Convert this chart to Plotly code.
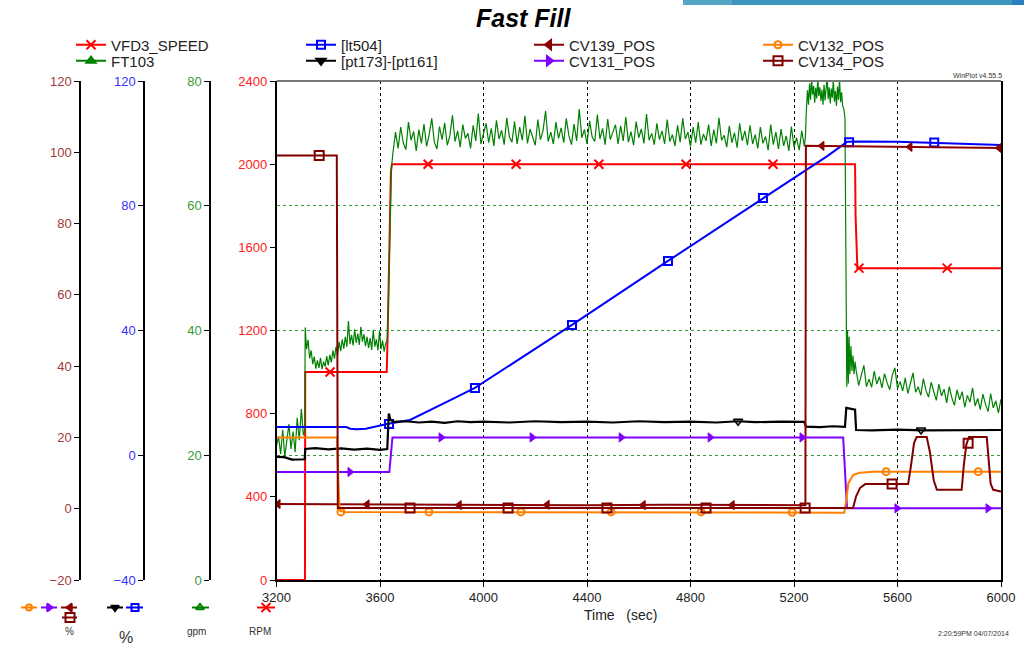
import plotly.graph_objects as go

W, H = 1024, 645
FONT = "Liberation Sans, Arial, Helvetica, sans-serif"

# ======================= DATA =======================
time_ticks = [3200, 3600, 4000, 4400, 4800, 5200, 5600, 6000]
rpm_ticks = [0, 400, 800, 1200, 1600, 2000, 2400]
gpm_ticks = [0, 20, 40, 60, 80]
lvl_ticks = [-40, 0, 40, 80, 120]
pos_ticks = [-20, 0, 20, 40, 60, 80, 100, 120]

# VFD3_SPEED [RPM]
spd_t = [3200, 3310, 3311, 3626, 3630, 3636, 3642, 3646, 5436, 5438, 5445, 6000]
spd_v = [0, 0, 1000, 1000, 1200, 1700, 1960, 2000, 2000, 1750, 1500, 1500]
spd_mk_t = [3407, 3786, 4126, 4446, 4783, 5119, 5451, 5792]
spd_mk_v = [1000, 2000, 2000, 2000, 2000, 2000, 1500, 1500]

# FT103 [gpm]  (noisy flow signal, read segment by segment as (time, gpm))
ft_a = [(3200, 21.5), (3208, 23.0), (3216, 20.2), (3224, 24.1), (3232, 19.8), (3240, 22.6),
        (3248, 25.0), (3256, 21.0), (3264, 23.8), (3272, 20.5), (3280, 26.0), (3288, 22.4),
        (3296, 27.4), (3304, 23.2), (3309, 24.0)]
ft_b = [(3311, 40.5), (3316, 37.0), (3322, 38.5), (3328, 35.5), (3334, 36.8), (3340, 34.6),
        (3346, 35.8), (3352, 33.9), (3358, 35.2), (3364, 34.0), (3370, 35.6), (3376, 33.8),
        (3382, 35.0), (3388, 34.2), (3394, 35.9), (3400, 34.4), (3406, 36.1), (3412, 34.9),
        (3418, 36.8), (3424, 35.5), (3430, 37.4), (3436, 36.0), (3442, 38.2), (3448, 36.7),
        (3454, 38.6), (3460, 37.1), (3466, 39.0), (3472, 37.4), (3478, 41.5), (3484, 37.8),
        (3490, 39.3), (3496, 37.6), (3502, 40.2), (3508, 38.0), (3514, 39.5), (3520, 37.7),
        (3526, 40.6), (3532, 38.2), (3538, 39.4), (3544, 37.5), (3550, 39.0), (3556, 37.2),
        (3562, 38.8), (3568, 36.9), (3574, 40.1), (3580, 37.4), (3586, 38.6), (3592, 36.8),
        (3598, 39.9), (3604, 37.0), (3610, 38.4), (3616, 36.6), (3622, 37.9)]
ft_ramp = [(3628, 38.5), (3632, 44.0), (3636, 51.0), (3640, 59.0), (3644, 66.0), (3650, 68.5),
           (3655, 70.5)]
ft_c = [(3660, 71.8), (3670, 69.2), (3680, 72.6), (3690, 70.1), (3700, 69.0), (3710, 73.4), (3720, 70.5), (3730, 71.9), (3740, 68.8), (3750, 72.2),
        (3760, 70.0), (3770, 73.1), (3780, 69.5), (3790, 71.4), (3800, 74.0), (3810, 70.2), (3820, 69.1), (3830, 72.7), (3840, 70.6), (3850, 73.3),
        (3860, 69.7), (3870, 71.2), (3880, 74.5), (3890, 70.3), (3900, 72.0), (3910, 69.4), (3920, 73.0), (3930, 70.8), (3940, 71.6), (3950, 69.2),
        (3960, 72.9), (3970, 70.4), (3980, 74.8), (3990, 69.9), (4000, 71.5), (4010, 73.2), (4020, 70.1), (4030, 72.4), (4040, 69.6), (4050, 73.7),
        (4060, 70.7), (4070, 72.1), (4080, 69.8), (4090, 74.1), (4100, 71.0), (4110, 70.2), (4120, 73.5), (4130, 69.9), (4140, 72.6), (4150, 70.5),
        (4160, 74.4), (4170, 70.0), (4180, 72.3), (4190, 71.1), (4200, 69.7), (4210, 73.8), (4220, 70.6), (4230, 72.0), (4240, 75.2), (4250, 70.3),
        (4260, 71.8), (4270, 69.9), (4280, 73.4), (4290, 70.8), (4300, 72.5), (4310, 70.1), (4320, 74.0), (4330, 71.2), (4340, 69.8), (4350, 73.1),
        (4360, 70.4), (4370, 75.5), (4380, 70.9), (4390, 72.2), (4400, 69.9), (4410, 73.6), (4420, 71.0), (4430, 70.3), (4440, 74.6), (4450, 70.7),
        (4460, 72.4), (4470, 69.8), (4480, 73.9), (4490, 70.6), (4500, 71.7), (4510, 73.0), (4520, 69.9), (4530, 72.8), (4540, 70.4), (4550, 74.2),
        (4560, 70.2), (4570, 71.9), (4580, 69.7), (4590, 73.5), (4600, 70.9), (4610, 72.3), (4620, 70.0), (4630, 74.7), (4640, 70.5), (4650, 71.6),
        (4660, 69.8), (4670, 73.2), (4680, 70.6), (4690, 72.0), (4700, 69.9), (4710, 73.8), (4720, 70.3), (4730, 71.4), (4740, 69.6), (4750, 72.9),
        (4760, 70.2), (4770, 74.0), (4780, 70.7), (4790, 71.8), (4800, 69.5), (4810, 72.6), (4820, 70.1), (4830, 73.4), (4840, 69.8), (4850, 71.5),
        (4860, 70.4), (4870, 73.0), (4880, 69.6), (4890, 72.2), (4900, 70.0), (4910, 74.1), (4920, 70.5), (4930, 71.3), (4940, 69.4), (4950, 72.8),
        (4960, 70.1), (4970, 71.7), (4980, 69.3), (4990, 73.2), (5000, 70.4), (5010, 72.0), (5020, 69.7), (5030, 72.9), (5040, 69.9), (5050, 71.4),
        (5060, 69.2), (5070, 72.6), (5080, 70.0), (5090, 71.1), (5100, 68.9), (5110, 73.0), (5120, 69.8), (5130, 71.8), (5140, 69.1), (5150, 72.3),
        (5160, 69.6), (5170, 71.2), (5180, 68.8), (5190, 72.7), (5200, 69.4), (5210, 70.9), (5220, 68.9), (5230, 72.0), (5240, 69.5)]
ft_d = [(5244, 71.0), (5248, 75.5), (5252, 78.5), (5256, 76.2), (5260, 79.6), (5264, 77.0),
        (5268, 80.5), (5272, 77.8), (5276, 79.2), (5280, 76.5), (5284, 78.9), (5288, 77.2),
        (5292, 80.3), (5296, 77.6), (5300, 79.0), (5304, 76.8), (5308, 78.6), (5312, 76.2),
        (5316, 79.4), (5320, 76.9), (5324, 78.3), (5328, 80.6), (5332, 77.1), (5336, 79.0),
        (5340, 76.4), (5344, 78.8), (5348, 77.3), (5352, 80.2), (5356, 76.7), (5360, 78.4),
        (5364, 76.0), (5368, 79.1), (5372, 77.0), (5376, 80.4), (5380, 76.6), (5384, 78.2),
        (5388, 76.0), (5393, 75.5)]
ft_e = [(5397, 74.0), (5401, 45.0), (5404, 31.0), (5407, 40.0), (5410, 31.5), (5413, 39.0),
        (5416, 33.0), (5420, 37.5), (5424, 33.5), (5428, 36.0), (5432, 33.0), (5436, 35.0),
        (5440, 33.6), (5450, 31.2), (5460, 32.8), (5470, 34.4), (5480, 31.0), (5490, 32.2), (5500, 30.9), (5510, 33.5), (5520, 31.4), (5530, 32.6),
        (5540, 30.8), (5550, 33.1), (5560, 31.6), (5570, 30.5), (5580, 32.9), (5590, 34.0), (5600, 30.7), (5610, 31.8), (5620, 30.3), (5630, 32.4),
        (5640, 29.9), (5650, 31.5), (5660, 33.2), (5670, 30.1), (5680, 31.0), (5690, 29.6), (5700, 32.3), (5710, 30.4), (5720, 29.3), (5730, 31.7),
        (5740, 30.0), (5750, 28.8), (5760, 31.4), (5770, 29.5), (5780, 30.6), (5790, 28.4), (5800, 31.0), (5810, 29.2), (5820, 28.0), (5830, 30.5),
        (5840, 28.9), (5850, 30.2), (5860, 27.7), (5870, 29.6), (5880, 28.5), (5890, 30.8), (5900, 27.9), (5910, 29.1), (5920, 27.3), (5930, 29.8),
        (5940, 28.2), (5950, 27.0), (5960, 29.9), (5970, 27.6), (5980, 28.7), (5990, 26.8), (6000, 29.0)]

# [lt504] [%]
lt_t = [3200, 3470, 3485, 3510, 3545, 3580, 3610, 3627, 3716, 3780, 3858, 3967, 4342, 4713,
        5080, 5243, 5330, 5405, 5450, 5600, 5800, 6000]
lt_v = [9.05, 9.05, 8.5, 8.3, 8.5, 9.2, 9.7, 10.0, 11.3, 14.0, 17.1, 21.6, 41.8, 62.3,
        82.5, 91.4, 96.0, 100.5, 100.6, 100.5, 100.1, 99.5]
lt_mk_t = [3635, 3967, 4342, 4713, 5080, 5413, 5742]
lt_mk_v = [10.0, 21.6, 41.8, 62.3, 82.5, 100.4, 100.3]

# [pt173]-[pt161] [%]
pt_t = [3200, 3230, 3260, 3290, 3309, 3311, 3350, 3400, 3450, 3500, 3550, 3600, 3628, 3634,
        3640, 3650, 3700, 3750, 3800, 3850, 3900, 3950, 4000, 4100, 4200, 4300, 4400, 4500,
        4600, 4700, 4800, 4900, 4984, 5050, 5150, 5240, 5246, 5300, 5350, 5397, 5402, 5436,
        5440, 5500, 5600, 5700, 5800, 5900, 6000]
pt_v = [-0.5, -0.6, -1.4, -1.2, -1.3, 2.0, 2.3, 1.9, 2.2, 1.8, 2.1, 1.7, 2.0, 13.4,
        11.5, 10.7, 10.9, 10.5, 10.8, 10.4, 10.9, 10.6, 10.8, 10.5, 10.9, 10.6, 10.8, 10.5,
        10.9, 10.6, 10.8, 10.5, 10.9, 10.6, 10.8, 10.7, 9.2, 9.0, 9.3, 9.1, 15.2, 14.6,
        8.1, 8.0, 8.2, 8.0, 8.1, 8.0, 8.1]
pt_mk_t = [4984, 5691]
pt_mk_v = [10.9, 8.1]

# CV139_POS [%]
cv139_t = [3200, 3500, 3800, 4100, 4400, 4700, 5000, 5244, 5246, 5400, 5700, 6000]
cv139_v = [1.3, 1.2, 1.0, 1.1, 1.0, 1.1, 1.0, 1.0, 101.8, 101.7, 101.5, 101.2]
cv139_mk_t = [3206, 3550, 3906, 4246, 4617, 4961, 5308, 5648, 5993]
cv139_mk_v = [1.3, 1.2, 1.0, 1.1, 1.0, 1.0, 101.8, 101.5, 101.2]

# CV131_POS [%]
cv131_t = [3200, 3636, 3642, 3648, 5390, 5398, 5405, 6000]
cv131_v = [10.3, 10.3, 15.0, 20.0, 20.0, 10.0, 0.1, 0.1]
cv131_mk_t = [3484, 3836, 4188, 4532, 4876, 5231, 5598, 5950]
cv131_mk_v = [10.3, 20.0, 20.0, 20.0, 20.0, 20.0, 0.1, 0.1]

# CV132_POS [%]
cv132_t = [3200, 3434, 3438, 3444, 3460, 5394, 5404, 5410, 5429, 5455, 5505, 6000]
cv132_v = [20.0, 20.0, 10.0, -0.5, -0.9, -1.1, 3.4, 7.1, 9.5, 10.1, 10.4, 10.4]
cv132_mk_t = [3449, 3789, 4145, 4493, 4841, 5193, 5556, 5912]
cv132_mk_v = [-0.9, -0.9, -0.9, -0.9, -0.9, -1.0, 10.4, 10.4]

# CV134_POS [%]
cv134_t = [3200, 3433, 3437, 5428, 5440, 5455, 5475, 5641, 5652, 5664, 5674, 5713, 5725,
           5740, 5752, 5848, 5856, 5866, 5876, 5945, 5952, 5960, 5970, 6000]
cv134_v = [99.1, 99.1, 0.2, 0.2, 3.5, 5.8, 6.9, 6.9, 12.0, 18.5, 20.1, 20.1, 16.0,
           8.0, 5.3, 5.3, 12.0, 18.0, 20.1, 20.1, 14.0, 7.0, 5.3, 4.8]
cv134_mk_t = [3365, 3716, 4095, 4477, 4860, 5243, 5579, 5873]
cv134_mk_v = [99.1, 0.2, 0.2, 0.2, 0.2, 0.2, 6.9, 18.4]

# ======================= STYLE / LAYOUT =======================
RED, GREEN, BLUE, BLACK = "#ff0000", "#008000", "#0000ff", "#000000"
BROWN, MAROON, PURPLE, ORANGE = "#8b0000", "#800000", "#8000ff", "#ff8000"


def px(x):
    return x / W


def py(y):
    return 1 - y / H


X0, X1, Y0, Y1 = 276.5, 1001, 580, 81

ft = ft_a + ft_b + ft_ramp + ft_c + ft_d + ft_e
ft_t = [p[0] for p in ft]
ft_v = [p[1] for p in ft]

fig = go.Figure()


def line(t, v, color, yaxis, width=2.0):
    fig.add_trace(go.Scatter(x=t, y=v, mode="lines", yaxis=yaxis, showlegend=False,
                             line=dict(color=color, width=width), hoverinfo="skip"))


def marks(t, v, color, yaxis, symbol, size=8, lw=2):
    fig.add_trace(go.Scatter(x=t, y=v, mode="markers", yaxis=yaxis, showlegend=False,
                             marker=dict(symbol=symbol, size=size, color=color,
                                         line=dict(color=color, width=lw)),
                             hoverinfo="skip"))


line(ft_t, ft_v, GREEN, "y2", 1.2)
line(spd_t, spd_v, RED, "y", 2.0)
marks(spd_mk_t, spd_mk_v, RED, "y", "x-thin", 9, 2)
line(lt_t, lt_v, BLUE, "y3", 2.0)
marks(lt_mk_t, lt_mk_v, BLUE, "y3", "square-open", 8, 2)
line(pt_t, pt_v, BLACK, "y3", 2.2)
marks(pt_mk_t, pt_mk_v, BLACK, "y3", "triangle-down-open", 8, 1.5)
line(cv139_t, cv139_v, BROWN, "y4", 2.0)
marks(cv139_mk_t, cv139_mk_v, BROWN, "y4", "triangle-left", 8, 1)
line(cv131_t, cv131_v, PURPLE, "y4", 2.0)
marks(cv131_mk_t, cv131_mk_v, PURPLE, "y4", "triangle-right", 8, 1)
line(cv132_t, cv132_v, ORANGE, "y4", 2.0)
marks(cv132_mk_t, cv132_mk_v, ORANGE, "y4", "circle-open", 7, 2)
line(cv134_t, cv134_v, MAROON, "y4", 2.0)
marks(cv134_mk_t, cv134_mk_v, MAROON, "y4", "square-open", 9, 2)

# ---- legend entries (one legend per entry, placed like the original grid) ----
legend_items = [
    ("VFD3_SPEED", RED, "x-thin", 9, 80, 45),
    ("FT103", GREEN, "triangle-up", 8, 80, 61),
    ("[lt504]", BLUE, "square-open", 8, 310, 45),
    ("[pt173]-[pt161]", BLACK, "triangle-down", 8, 310, 61),
    ("CV139_POS", BROWN, "triangle-left", 8, 538, 45),
    ("CV131_POS", PURPLE, "triangle-right", 8, 538, 61),
    ("CV132_POS", ORANGE, "circle-open", 7, 767, 45),
    ("CV134_POS", MAROON, "square-open", 9, 767, 61),
]
legends = {}
for i, (name, col, sym, sz, lx, ly) in enumerate(legend_items):
    key = "legend" if i == 0 else f"legend{i + 1}"
    fig.add_trace(go.Scatter(x=[None], y=[None], mode="lines+markers", name=name,
                             legend=key, line=dict(color=col, width=2),
                             marker=dict(symbol=sym, size=sz, color=col,
                                         line=dict(color=col, width=2))))
    legends[key] = dict(x=px(lx - 9), y=py(ly), xanchor="left", yanchor="middle",
                        bgcolor="rgba(0,0,0,0)", itemwidth=30,
                        font=dict(family=FONT, size=15, color="#222222"))

# ---- unit key below the stacked axes (drawn on a full-page helper subplot) ----
key_items = [
    (ORANGE, "circle-open", 6, 21, 37, 29, 607.5),
    (PURPLE, "triangle-right", 7, 41, 57, 49, 607.5),
    (BROWN, "triangle-left", 7, 61, 77, 70, 607.5),
    (MAROON, "square-open", 9, 62, 77, 70, 617.5),
    (BLACK, "triangle-down", 7, 107, 123, 115, 607.5),
    (BLUE, "square-open", 7, 126, 143, 135, 607.5),
    (GREEN, "triangle-up-open", 7, 192, 209, 200, 607.5),
    (RED, "x-thin", 9, 257, 275, 266, 607.5),
]
for col, sym, sz, xa, xb, xm, yk in key_items:
    fig.add_trace(go.Scatter(x=[xa, xb], y=[yk, yk], mode="lines", xaxis="x2", yaxis="y5",
                             showlegend=False, hoverinfo="skip", line=dict(color=col, width=2)))
    fig.add_trace(go.Scatter(x=[xm], y=[yk], mode="markers", xaxis="x2", yaxis="y5",
                             showlegend=False, hoverinfo="skip",
                             marker=dict(symbol=sym, size=sz, color=col,
                                         line=dict(color=col, width=2))))

tick_common = dict(ticks="outside", ticklen=5, tickwidth=1, tickcolor=BLACK,
                   showline=True, linecolor=BLACK, linewidth=1.5, zeroline=False,
                   automargin=False)

fig.update_layout(
    width=W, height=H, margin=dict(l=0, r=0, t=0, b=0, autoexpand=False),
    paper_bgcolor="white", plot_bgcolor="rgba(0,0,0,0)",
    font=dict(family=FONT, color="#222222"),
    xaxis=dict(domain=[px(X0), px(X1)], range=[3200, 6000], tickvals=time_ticks,
               showgrid=True, gridcolor=BLACK, griddash="dot", gridwidth=1,
               tickfont=dict(size=13, color="#222222"), anchor="y", **tick_common),
    yaxis=dict(domain=[py(Y0), py(Y1)], range=[0, 2400], tickvals=rpm_ticks,
               showgrid=False, mirror=True, tickfont=dict(size=13, color="#ff2020"),
               anchor="x", **tick_common),
    yaxis2=dict(overlaying="y", anchor="free", position=px(210), side="left",
                range=[0, 80], tickvals=gpm_ticks, showgrid=True, gridcolor="#3a9a3a",
                griddash="3px,3px", gridwidth=1, tickfont=dict(size=13, color="#3a9a3a"),
                **tick_common),
    yaxis3=dict(overlaying="y", anchor="free", position=px(144), side="left",
                range=[-40, 120], tickvals=lvl_ticks, showgrid=False,
                tickfont=dict(size=13, color="#3333ff"), **tick_common),
    yaxis4=dict(overlaying="y", anchor="free", position=px(80), side="left",
                range=[-20, 120], tickvals=pos_ticks, showgrid=False,
                tickfont=dict(size=13, color="#a03a3a"), **tick_common),
    xaxis2=dict(domain=[0, 1], range=[0, W], visible=False, anchor="y5", fixedrange=True),
    yaxis5=dict(domain=[0, 1], range=[H, 0], visible=False, anchor="x2", fixedrange=True),
    **legends,
)

annotations = [
    dict(text="<b><i>Fast Fill</i></b>", x=px(524), y=py(18), size=25, color=BLACK),
    dict(text="Time\u00a0\u00a0\u00a0(sec)", x=px(620), y=py(615), size=14, color="#222222"),
    dict(text="WinPlot v4.55.5", x=px(977), y=py(76), size=7, color="#333333"),
    dict(text="2:20:59PM 04/07/2014", x=px(973), y=py(633), size=7, color="#333333"),
    dict(text="%", x=px(69), y=py(631), size=10, color="#333333"),
    dict(text="%", x=px(126), y=py(637), size=16, color="#333333"),
    dict(text="gpm", x=px(196), y=py(631), size=10, color="#333333"),
    dict(text="RPM", x=px(260), y=py(631), size=10, color="#333333"),
]
for a in annotations:
    fig.add_annotation(text=a["text"], x=a["x"], y=a["y"], xref="paper", yref="paper",
                       xanchor="center", yanchor="middle", showarrow=False,
                       font=dict(family=FONT, size=a["size"], color=a["color"]))

# top frame line (grey) and slide decoration bar
fig.add_shape(type="line", xref="paper", yref="paper", x0=px(X0), x1=px(X1),
              y0=py(Y1), y1=py(Y1), line=dict(color="#777777", width=2))
for xa, xb, col in [(683, 732, "#55a5c5"), (732, 1012, "#3c95bd"), (1012, 1024, "#2a7ec3")]:
    fig.add_shape(type="rect", xref="paper", yref="paper", x0=px(xa), x1=px(xb),
                  y0=py(5), y1=py(0), line=dict(width=0), fillcolor=col)

fig.write_html("out.html", config={"displayModeBar": False},
               post_script="document.body.style.margin='0';document.body.style.overflow='hidden';")
